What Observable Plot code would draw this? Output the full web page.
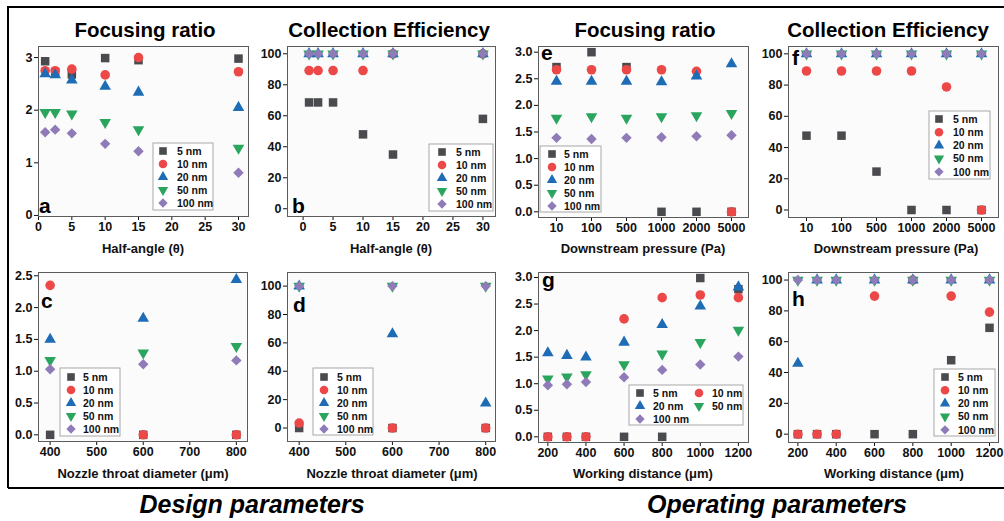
<!DOCTYPE html>
<html>
<head>
<meta charset="utf-8">
<script src="https://cdn.jsdelivr.net/npm/d3@7"></script>
<script src="https://cdn.jsdelivr.net/npm/@observablehq/plot@0.6"></script>
<style>
  body { margin: 0; background: #fff; }
  #root { position: relative; width: 1004px; height: 521px; overflow: hidden; background: #fff; }
</style>
</head>
<body>
<div id="root"></div>
<script>
// ---------------- DATA ----------------
const seriesNames = ["5 nm", "10 nm", "20 nm", "50 nm", "100 nm"];

const halfAngle = [1, 2.5, 5, 10, 15, 30];
const focusHalfAngle = [
  [2.93, 2.72, 2.68, 2.99, 2.95, 2.98],
  [2.75, 2.75, 2.78, 2.67, 3.00, 2.73],
  [2.69, 2.67, 2.57, 2.45, 2.34, 2.05],
  [1.96, 1.96, 1.93, 1.77, 1.63, 1.28],
  [1.58, 1.63, 1.56, 1.36, 1.22, 0.81]
];
const collectHalfAngle = [
  [68.6, 68.6, 68.6, 48, 35, 58],
  [89.2, 89.2, 89.2, 89.2, 100, 100],
  [100, 100, 100, 100, 100, 100],
  [100, 100, 100, 100, 100, 100],
  [100, 100, 100, 100, 100, 100]
];

const pressure = ["10", "100", "500", "1000", "2000", "5000"];
const focusPressure = [
  [2.72, 3.00, 2.72, 0, 0, 0],
  [2.67, 2.67, 2.67, 2.67, 2.64, 0],
  [2.45, 2.45, 2.45, 2.44, 2.55, 2.78],
  [1.76, 1.79, 1.76, 1.79, 1.81, 1.85],
  [1.39, 1.37, 1.39, 1.40, 1.42, 1.44]
];
const collectPressure = [
  [47.6, 47.6, 24.6, 0, 0, 0],
  [89, 89, 89, 89, 78.8, 0],
  [100, 100, 100, 100, 100, 100],
  [100, 100, 100, 100, 100, 100],
  [100, 100, 100, 100, 100, 100]
];

const throat = [400, 600, 800];
const focusThroat = [
  [0, 0, 0],
  [2.35, 0, 0],
  [1.50, 1.83, 2.44],
  [1.17, 1.29, 1.39],
  [1.03, 1.11, 1.17]
];
const collectThroat = [
  [0, 0, 0],
  [3.5, 0, 0],
  [100, 66.3, 17.5],
  [100, 100, 100],
  [100, 100, 100]
];

const workDist = [200, 300, 400, 600, 800, 1000, 1200];
const focusWork = [
  [0, 0, 0, 0, 0, 2.99, 2.78],
  [0, 0, 0, 2.22, 2.62, 2.67, 2.62],
  [1.58, 1.53, 1.50, 1.78, 2.11, 2.46, 2.82],
  [1.09, 1.13, 1.17, 1.36, 1.56, 1.78, 2.01],
  [0.97, 0.99, 1.03, 1.12, 1.26, 1.36, 1.51]
];
const collectWork = [
  [0, 0, 0, 0, 0, 48, 69],
  [0, 0, 0, 89.6, 100, 89.6, 79.2],
  [45.9, 100, 100, 100, 100, 100, 100],
  [100, 100, 100, 100, 100, 100, 100],
  [100, 100, 100, 100, 100, 100, 100]
];

// ---------------- STYLE ----------------
const FONT = "'Liberation Sans', Arial, Helvetica, sans-serif";
const seriesColors = ["#4a4b4e", "#ec4848", "#1e6cb6", "#2aa55e", "#8f7bb8"];
const triangleDown = {
  draw(ctx, size) {
    const s3 = Math.sqrt(3);
    const y = Math.sqrt(size / (s3 * 3));
    ctx.moveTo(0, 2 * y);
    ctx.lineTo(s3 * y, -y);
    ctx.lineTo(-s3 * y, -y);
    ctx.closePath();
  }
};
const diamondSym = {
  draw(ctx, size) {
    const r = Math.sqrt(size) * 0.62625;
    ctx.moveTo(0, -r); ctx.lineTo(r, 0); ctx.lineTo(0, r); ctx.lineTo(-r, 0); ctx.closePath();
  }
};
const seriesSymbols = [d3.symbolSquare, d3.symbolCircle, d3.symbolTriangle, triangleDown, diamondSym];
const seriesR = [4.8, 4.8, 4.3, 4.3, 4.7];

const root = document.getElementById("root");

function panel(cfg) {
  const [l, t, r, b] = cfg.frame;
  const mL = 44, mT = 8, mR = 8, mB = 30;
  const marks = [Plot.frame({fill: "#fbfbfb", stroke: "none"})];
  cfg.values.forEach((vals, i) => {
    const rows = vals.map((v, j) => ({x: cfg.xs[j], y: v}));
    marks.push(Plot.dot(rows, {x: "x", y: "y", symbol: seriesSymbols[i], r: seriesR[i], fill: seriesColors[i], stroke: "none"}));
  });
  marks.push(Plot.frame({stroke: "#5c5c5c", strokeWidth: 1}));
  const svg = Plot.plot({
    width: r - l + mL + mR,
    height: b - t + mT + mB,
    marginLeft: mL, marginTop: mT, marginRight: mR, marginBottom: mB,
    x: Object.assign({tickSize: 4, tickPadding: 2, label: null}, cfg.x),
    y: Object.assign({tickSize: 4, tickPadding: 2, label: null}, cfg.y),
    style: {background: "transparent", fontFamily: FONT, fontSize: "12.5px", fontWeight: "bold", color: "#111", overflow: "visible"},
    marks
  });
  svg.style.position = "absolute";
  svg.style.left = (l - mL) + "px";
  svg.style.top = (t - mT) + "px";
  root.append(svg);
}

// a
panel({frame: [38, 46, 248, 216], xs: halfAngle, values: focusHalfAngle,
  x: {domain: [0, 31.5], ticks: [0, 5, 10, 15, 20, 25, 30], tickFormat: "d"},
  y: {domain: [-0.02, 3.21], ticks: [0, 1, 2, 3], tickFormat: "d"}});
// b
panel({frame: [287, 46, 495, 216], xs: halfAngle, values: collectHalfAngle,
  x: {domain: [-2.6, 32.1], ticks: [0, 5, 10, 15, 20, 25, 30], tickFormat: "d"},
  y: {domain: [-5, 104.7], ticks: [0, 20, 40, 60, 80, 100], tickFormat: "d"}});
// e
panel({frame: [538, 46, 748, 217], xs: pressure, values: focusPressure,
  x: {type: "point", domain: pressure, padding: 0.5},
  y: {domain: [-0.107, 3.107], ticks: [0, 0.5, 1, 1.5, 2, 2.5, 3], tickFormat: ".1f"}});
// f
panel({frame: [788, 46, 998, 217], xs: pressure, values: collectPressure,
  x: {type: "point", domain: pressure, padding: 0.5},
  y: {domain: [-4.8, 104.7], ticks: [0, 20, 40, 60, 80, 100], tickFormat: "d"}});
// c
panel({frame: [38, 272, 247, 441], xs: throat, values: focusThroat,
  x: {domain: [375, 824], ticks: [400, 500, 600, 700, 800], tickFormat: "d"},
  y: {domain: [-0.105, 2.552], ticks: [0, 0.5, 1, 1.5, 2, 2.5], tickFormat: ".1f"}});
// d
panel({frame: [287, 272, 495, 441], xs: throat, values: collectThroat,
  x: {domain: [375, 821], ticks: [400, 500, 600, 700, 800], tickFormat: "d"},
  y: {domain: [-9.5, 109.6], ticks: [0, 20, 40, 60, 80, 100], tickFormat: "d"}});
// g
panel({frame: [538, 272, 748, 442], xs: workDist, values: focusWork,
  x: {domain: [151, 1253], ticks: [200, 400, 600, 800, 1000, 1200], tickFormat: "d"},
  y: {domain: [-0.107, 3.094], ticks: [0, 0.5, 1, 1.5, 2, 2.5, 3], tickFormat: ".1f"}});
// h
panel({frame: [788, 272, 998, 442], xs: workDist, values: collectWork,
  x: {domain: [151, 1247], ticks: [200, 400, 600, 800, 1000, 1200], tickFormat: "d"},
  y: {domain: [-5.4, 104.9], ticks: [0, 20, 40, 60, 80, 100], tickFormat: "d"}});

// ---------------- OVERLAY (titles, labels, legends, frame) ----------------
const ov = d3.select(root).append("svg")
  .attr("width", 1004).attr("height", 521)
  .style("position", "absolute").style("left", "0px").style("top", "0px")
  .style("font-family", FONT).style("pointer-events", "none");

ov.append("path").attr("d", "M8,488V7H1004M8,488H1004")
  .attr("fill", "none").attr("stroke", "#000").attr("stroke-width", 2);

const titles = [["Focusing ratio", 145, 37], ["Collection Efficiency", 389, 37], ["Focusing ratio", 645, 37], ["Collection Efficiency", 888, 37]];
titles.forEach(([s, x, y]) => ov.append("text").text(s).attr("x", x).attr("y", y)
  .attr("text-anchor", "middle").attr("font-size", 20.5).attr("font-weight", "bold").attr("fill", "#000"));

const axisLabels = [
  ["Half-angle (θ)", 143, 253], ["Half-angle (θ)", 391, 253],
  ["Downstream pressure (Pa)", 643, 253], ["Downstream pressure (Pa)", 896, 253],
  ["Nozzle throat diameter (μm)", 143, 478], ["Nozzle throat diameter (μm)", 392, 478],
  ["Working distance (μm)", 643, 478], ["Working distance (μm)", 894, 478]
];
axisLabels.forEach(([s, x, y]) => ov.append("text").text(s).attr("x", x).attr("y", y)
  .attr("text-anchor", "middle").attr("font-size", 13).attr("font-weight", "bold").attr("fill", "#111"));

const letters = [["a", 39, 213], ["b", 292, 213], ["e", 541, 60], ["f", 792, 65],
                 ["c", 41, 308], ["d", 293, 312], ["g", 542, 287], ["h", 792, 306]];
letters.forEach(([s, x, y]) => ov.append("text").text(s).attr("x", x).attr("y", y)
  .attr("font-size", 21).attr("font-weight", "bold").attr("fill", "#000"));

[["Design parameters", 252], ["Operating parameters", 777]].forEach(([s, x]) =>
  ov.append("text").text(s).attr("x", x).attr("y", 513).attr("text-anchor", "middle")
    .attr("font-size", 25).attr("font-weight", "bold").attr("font-style", "italic").attr("fill", "#000"));

function legend(box, items) {
  const [l, t, r, b] = box;
  ov.append("rect").attr("x", l).attr("y", t).attr("width", r - l).attr("height", b - t)
    .attr("fill", "#fff").attr("stroke", "#a8a8a8").attr("stroke-width", 1);
  items.forEach(([i, sx, tx, y]) => {
    const size = seriesR[i] * seriesR[i] * Math.PI * 0.8;
    ov.append("path").attr("d", d3.symbol(seriesSymbols[i], size)())
      .attr("transform", `translate(${sx},${y})`).attr("fill", seriesColors[i]);
    ov.append("text").text(seriesNames[i]).attr("x", tx).attr("y", y).attr("dy", "0.36em")
      .attr("font-size", 10.5).attr("font-weight", "bold").attr("fill", "#111");
  });
}
function col(box, sx, tx, y0, step) {
  legend(box, seriesNames.map((_, i) => [i, sx, tx, y0 + i * step]));
}
col([153, 143, 213, 210], 163, 177, 151, 13);
col([429, 144, 493, 211], 442, 456, 152, 13);
col([540, 146, 601, 212], 552, 564, 154, 13);
col([929, 111, 990, 179], 939, 953, 119, 13.2);
col([60, 368, 120, 436], 71, 83, 377, 13);
col([313, 368, 373, 435], 324, 337, 377, 13);
col([934, 369, 995, 436], 945, 958, 377, 13.2);
legend([629, 385, 743, 425], [[0, 640, 653, 393], [1, 699, 712, 393], [2, 640, 653, 406], [3, 699, 712, 406], [4, 640, 653, 419]]);
</script>
</body>
</html>
